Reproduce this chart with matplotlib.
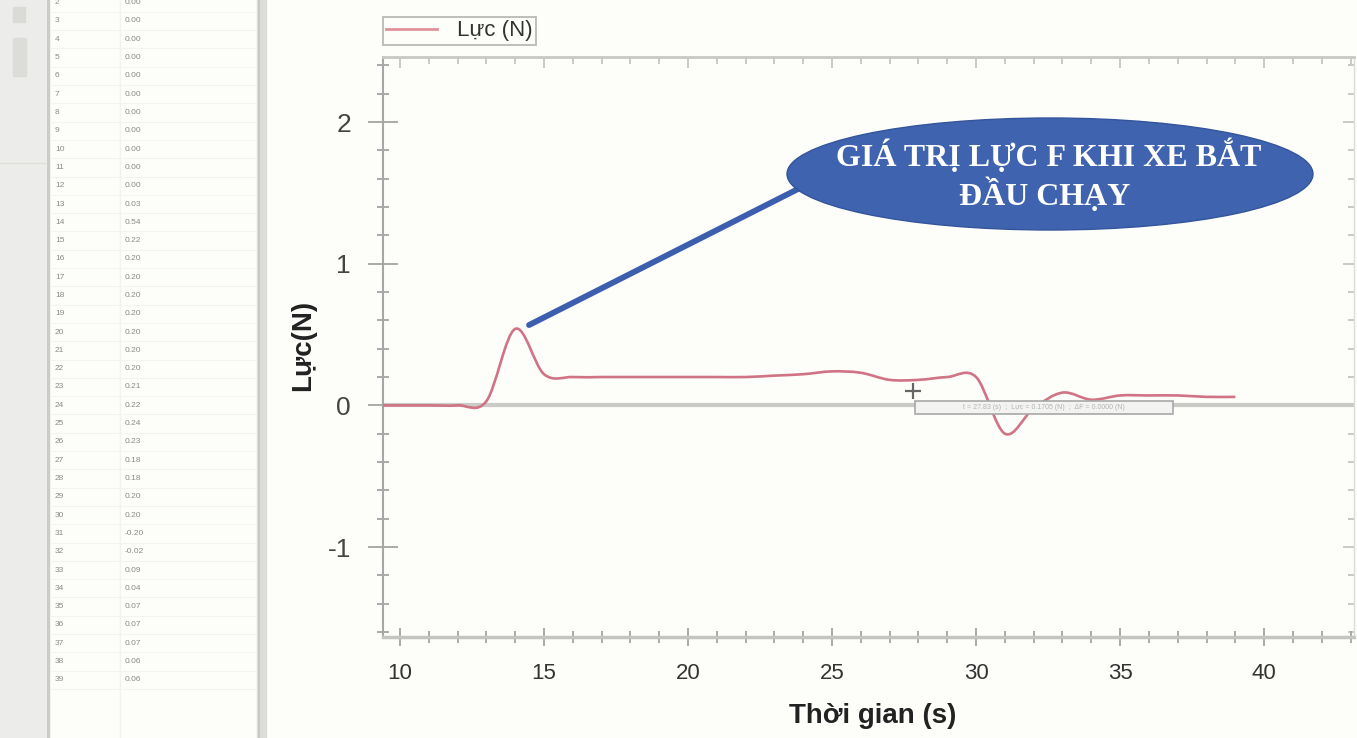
import numpy as np
import matplotlib
matplotlib.use("Agg")
import matplotlib.pyplot as plt
from matplotlib.path import Path
from matplotlib.patches import PathPatch, Ellipse, Rectangle
from matplotlib.lines import Line2D
from matplotlib.ticker import MultipleLocator, FixedLocator

plt.rcParams["axes.unicode_minus"] = False

W, H = 1357, 738

# Force sensor readings, one per second
time_s = [0, 1, 2, 3, 4, 5, 6, 7, 8, 9,
          10, 11, 12, 13, 14, 15, 16, 17, 18, 19,
          20, 21, 22, 23, 24, 25, 26, 27, 28, 29,
          30, 31, 32, 33, 34, 35, 36, 37, 38, 39]
force_n = [0.00, 0.00, 0.00, 0.00, 0.00, 0.00, 0.00, 0.00, 0.00, 0.00,
           0.00, 0.00, 0.00, 0.03, 0.54, 0.22, 0.20, 0.20, 0.20, 0.20,
           0.20, 0.20, 0.20, 0.21, 0.22, 0.24, 0.23, 0.18, 0.18, 0.20,
           0.20, -0.20, -0.02, 0.09, 0.04, 0.07, 0.07, 0.07, 0.06, 0.06]

x_major = [10, 15, 20, 25, 30, 35, 40]
y_major = [-1, 0, 1, 2]

series_label = "Lực (N)"
x_label = "Thời gian (s)"
y_label = "Lực(N)"
callout_lines = ["GIÁ TRỊ LỰC F KHI XE BẮT", "ĐẦU CHẠY"]
peak_time = 14.48
peak_force = 0.567
cursor_t, cursor_f = 27.8, 0.10
tooltip_text = "t = 27.83 (s)  ;  Lực = 0.1705 (N)  ;  ΔF = 0.0000 (N)"

SANS = "Liberation Sans"
SERIF = "Liberation Serif"
BG = "#fdfdfa"


def px(x, y):
    """Pixel position (from top-left) to figure fraction."""
    return x / W, 1 - y / H


def smooth_path(x, y):
    """Catmull-Rom curve through the samples, as cubic Bezier segments."""
    x = np.asarray(x, float)
    y = np.asarray(y, float)
    ex = np.concatenate([[2 * x[0] - x[1]], x, [2 * x[-1] - x[-2]]])
    ey = np.concatenate([[2 * y[0] - y[1]], y, [2 * y[-1] - y[-2]]])
    verts = [(x[0], y[0])]
    codes = [Path.MOVETO]
    for i in range(1, len(ex) - 2):
        c1 = (ex[i] + (ex[i + 1] - ex[i - 1]) / 6, ey[i] + (ey[i + 1] - ey[i - 1]) / 6)
        c2 = (ex[i + 1] - (ex[i + 2] - ex[i]) / 6, ey[i + 1] - (ey[i + 2] - ey[i]) / 6)
        verts += [c1, c2, (ex[i + 1], ey[i + 1])]
        codes += [Path.CURVE4] * 3
    return Path(verts, codes)


fig = plt.figure(figsize=(W / 100, H / 100), dpi=100, facecolor=BG)

# ---- data table panel on the left ----
ft = fig.transFigure
fig.patches.append(Rectangle(px(0, H), 45 / W, 1, transform=ft, color="#ececea", zorder=0))
fig.patches.append(Rectangle(px(13, 22), 12 / W, 15 / H, transform=ft, color="#dadad6", zorder=1))
fig.patches.append(Rectangle(px(13, 76), 13 / W, 38 / H, transform=ft, color="#dcdcd8", zorder=1))
fig.add_artist(Line2D([0, 45 / W], [1 - 163 / H] * 2, transform=ft, color="#deded9", lw=1))
fig.add_artist(Line2D([47.5 / W] * 2, [0, 1], transform=ft, color="#cbcbc7", lw=2.5))
fig.patches.append(Rectangle(px(257, H), 9 / W, 1, transform=ft, color="#dcdcd8", zorder=1))
fig.add_artist(Line2D([259 / W] * 2, [0, 1], transform=ft, color="#c4c4c0", lw=1.2))
fig.add_artist(Line2D([120 / W] * 2, [0, 1], transform=ft, color="#f2f2ee", lw=1))

row_h = 18.3
for t, f in zip(time_s, force_n):
    yc = 21 + (t - 3) * row_h
    if yc < -5:
        continue
    fig.text(*px(55, yc), f"{t}", fontsize=6, color="#8a8a8a", va="center", ha="left", family=SANS)
    fig.text(*px(125, yc), f"{f:.2f}", fontsize=6, color="#8a8a8a", va="center", ha="left", family=SANS)
    fig.add_artist(Line2D([50 / W, 256 / W], [1 - (yc + row_h / 2) / H] * 2,
                          transform=ft, color="#f3f3ef", lw=0.8))

# ---- chart ----
ax = fig.add_axes([383 / W, 1 - 637 / H, (1354 - 383) / W, (637 - 57) / H])
ax.set_facecolor(BG)
ax.set_xlim(9.41, 43.12)
ax.set_ylim(-1.635, 2.459)

ax.axhline(0, color="#cacac6", lw=3, zorder=1)
ax.add_patch(PathPatch(smooth_path(time_s, force_n), facecolor="none",
                       edgecolor="#d07385", lw=1.9, zorder=3))

ax.xaxis.set_major_locator(FixedLocator(x_major))
ax.xaxis.set_minor_locator(MultipleLocator(1))
ax.yaxis.set_major_locator(FixedLocator(y_major))
ax.yaxis.set_minor_locator(MultipleLocator(0.2))
ax.tick_params(axis="both", which="both", direction="inout", color="#a4a4a4", width=1.3)
ax.tick_params(axis="y", which="major", length=22, pad=12, labelsize=19, labelcolor="#444444")
ax.tick_params(axis="y", which="minor", length=8)
ax.tick_params(axis="x", which="major", length=13, pad=12, labelsize=16, labelcolor="#333333")
ax.tick_params(axis="x", which="minor", length=9)
for lab in ax.get_xticklabels() + ax.get_yticklabels():
    lab.set_family(SANS)

ax.spines["left"].set_color("#a6a6a6")
ax.spines["left"].set_linewidth(1.5)
ax.spines["bottom"].set_color("#c4c4c0")
ax.spines["bottom"].set_linewidth(2.5)
ax.spines["top"].set_color("#c8c8c4")
ax.spines["top"].set_linewidth(2)
ax.spines["right"].set_color("#dadad6")
ax.spines["right"].set_linewidth(1)

top = ax.secondary_xaxis("top")
top.xaxis.set_major_locator(FixedLocator(x_major))
top.xaxis.set_minor_locator(MultipleLocator(1))
top.tick_params(which="both", direction="in", color="#c0c0bc", labeltop=False, width=1.2)
top.tick_params(which="major", length=8)
top.tick_params(which="minor", length=5)
top.spines["top"].set_visible(False)
right = ax.secondary_yaxis("right")
right.yaxis.set_major_locator(FixedLocator(y_major))
right.yaxis.set_minor_locator(MultipleLocator(0.2))
right.tick_params(which="both", direction="in", color="#c0c0bc", labelright=False, width=1.2)
right.tick_params(which="major", length=8)
right.tick_params(which="minor", length=4)
right.spines["right"].set_visible(False)

ax.set_xlabel(x_label, fontsize=20, fontweight="bold", family=SANS, color="#222222")
ax.xaxis.set_label_coords((873 - 383) / 971, (637 - 716) / 580)
ax.xaxis.label.set_va("center")
ax.set_ylabel(y_label, fontsize=20, fontweight="bold", family=SANS, color="#222222")
ax.yaxis.set_label_coords((303 - 383) / 971, (637 - 345) / 580)
ax.yaxis.label.set_va("center")

leg = ax.legend(handles=[Line2D([], [], color="#e0939b", lw=2)], labels=[series_label],
                loc="upper left", bbox_to_anchor=px(383, 17), bbox_transform=ft,
                frameon=True, fancybox=False, borderaxespad=0, borderpad=0.15,
                handlelength=2.3, handletextpad=0.9,
                prop={"family": SANS, "size": 16})
leg.get_frame().set_edgecolor("#a8a8a8")
leg.get_frame().set_linewidth(1.3)
leg.get_frame().set_facecolor(BG)
for txt in leg.get_texts():
    txt.set_color("#333333")

# cursor and readout box
ax.plot([cursor_t], [cursor_f], marker="+", ms=12, mew=1.6, color="#666666", zorder=6)
fig.patches.append(Rectangle(px(915, 414), (1173 - 915) / W, 13 / H, transform=ft,
                             facecolor="#f3f3f1", edgecolor="#a8a8a8", lw=1.2, zorder=7))
fig.text(*px(1044, 407.5), tooltip_text, fontsize=5, color="#b4b4b4",
         ha="center", va="center", family=SANS, zorder=8)

# callout
ax.annotate("", xy=(peak_time, peak_force), xycoords="data",
            xytext=px(800, 188), textcoords="figure fraction",
            arrowprops=dict(arrowstyle="-", lw=4.2, color="#3b5fae", shrinkA=0, shrinkB=0),
            zorder=8)
cx, cy = px(1050, 174)
fig.patches.append(Ellipse((cx, cy), 526 / W, 112 / H, transform=ft,
                           facecolor="#3f63af", edgecolor="#34559c", lw=1, zorder=9))
fig.text(*px(1049, 166), callout_lines[0], fontsize=23, fontweight="bold", family=SERIF,
         color="white", ha="center", va="baseline", zorder=10)
fig.text(*px(1045, 205), callout_lines[1], fontsize=23, fontweight="bold", family=SERIF,
         color="white", ha="center", va="baseline", zorder=10)

fig.savefig("out.png", dpi=100, facecolor=BG)
